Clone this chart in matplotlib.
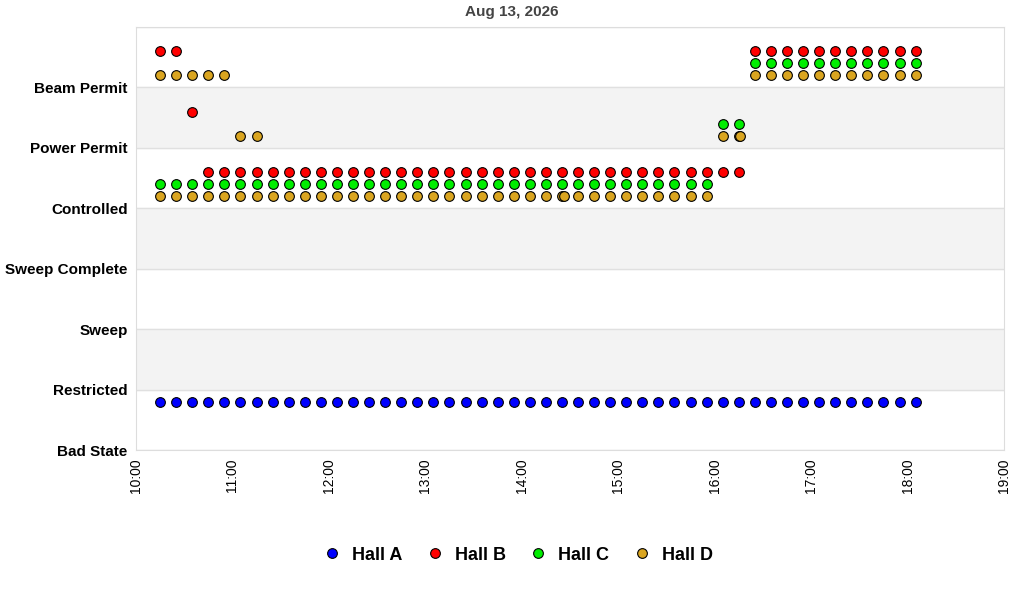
import pandas as pd
import matplotlib.pyplot as plt
import matplotlib.dates as mdates

plt.rcParams['font.family'] = ['Liberation Sans', 'DejaVu Sans']

states = ['Bad State', 'Restricted', 'Sweep', 'Sweep Complete',
          'Controlled', 'Power Permit', 'Beam Permit']
halls = ['Hall A', 'Hall B', 'Hall C', 'Hall D']
colors = ['#0000ff', '#ff0000', '#00ee00', '#daa520']
offsets = [0.8, 0.6, 0.4, 0.2]

day = '2026-08-13'
# samples every 10 minutes
sample_times = pd.date_range(day + ' 10:15', day + ' 18:05', freq='10min')

# (from, to, state) runs
hall_a = [('10:15', '18:05', 'Bad State')]
hall_b = [('10:15', '10:25', 'Beam Permit'),
          ('10:35', '10:35', 'Power Permit'),
          ('10:45', '16:15', 'Controlled'),
          ('16:25', '18:05', 'Beam Permit')]
hall_c = [('10:15', '15:55', 'Controlled'),
          ('16:05', '16:15', 'Power Permit'),
          ('16:25', '18:05', 'Beam Permit')]
hall_d = [('10:15', '10:55', 'Beam Permit'),
          ('10:15', '15:55', 'Controlled'),
          ('11:05', '11:15', 'Power Permit'),
          ('16:05', '16:15', 'Power Permit'),
          ('16:25', '18:05', 'Beam Permit')]
# a couple of off-grid samples
extra_d = [('14:26', 'Controlled'), ('16:16', 'Power Permit')]

runs = [hall_a, hall_b, hall_c, hall_d]
extras = [[], [], [], extra_d]

fig = plt.figure(figsize=(10.24, 6), dpi=100)
ax = fig.add_axes([136/1024, 1-450/600, 868/1024, 423/600])

for k in range(1, 7, 2):
    ax.axhspan(k, k+1, color='#f3f3f3', zorder=0)
for k in range(0, 8):
    ax.axhline(k, color='#e0e0e0', lw=1, zorder=1)

for hall, col, off, hr, ex in zip(halls, colors, offsets, runs, extras):
    xs, ys = [], []
    for t0, t1, st in hr:
        sel = sample_times[(sample_times >= pd.Timestamp(day + ' ' + t0)) &
                           (sample_times <= pd.Timestamp(day + ' ' + t1))]
        xs += list(sel)
        ys += [states.index(st) + off] * len(sel)
    for t, st in ex:
        xs.append(pd.Timestamp(day + ' ' + t))
        ys.append(states.index(st) + off)
    ax.plot(xs, ys, 'o', color=col, mec='black', mew=0.8, ms=7,
            label=hall, zorder=3)

ax.set_ylim(0, 7)
ax.set_yticks(range(7))
ax.set_yticklabels(states, fontsize=11, fontweight='bold')
ax.set_xlim(pd.Timestamp(day + ' 10:00'), pd.Timestamp(day + ' 19:00'))
ax.xaxis.set_major_locator(mdates.HourLocator())
ax.xaxis.set_major_formatter(mdates.DateFormatter('%H:%M'))
plt.setp(ax.get_xticklabels(), rotation=90, fontsize=10)
ax.tick_params(length=0, pad=6)
for s in ax.spines.values():
    s.set_color('#dddddd')

fig.text(0.5, 1-12/600, 'Aug 13, 2026', ha='center', va='center',
         fontsize=11, fontweight='bold', color='#444444')

leg = fig.legend(loc='center', bbox_to_anchor=(518/1024, 1-555/600), ncol=4,
                 frameon=False, prop={'size': 13, 'weight': 'bold'},
                 handlelength=1.0, handletextpad=0.6, columnspacing=1.3,
                 markerscale=1.0)

fig.savefig('out.png', dpi=100)
